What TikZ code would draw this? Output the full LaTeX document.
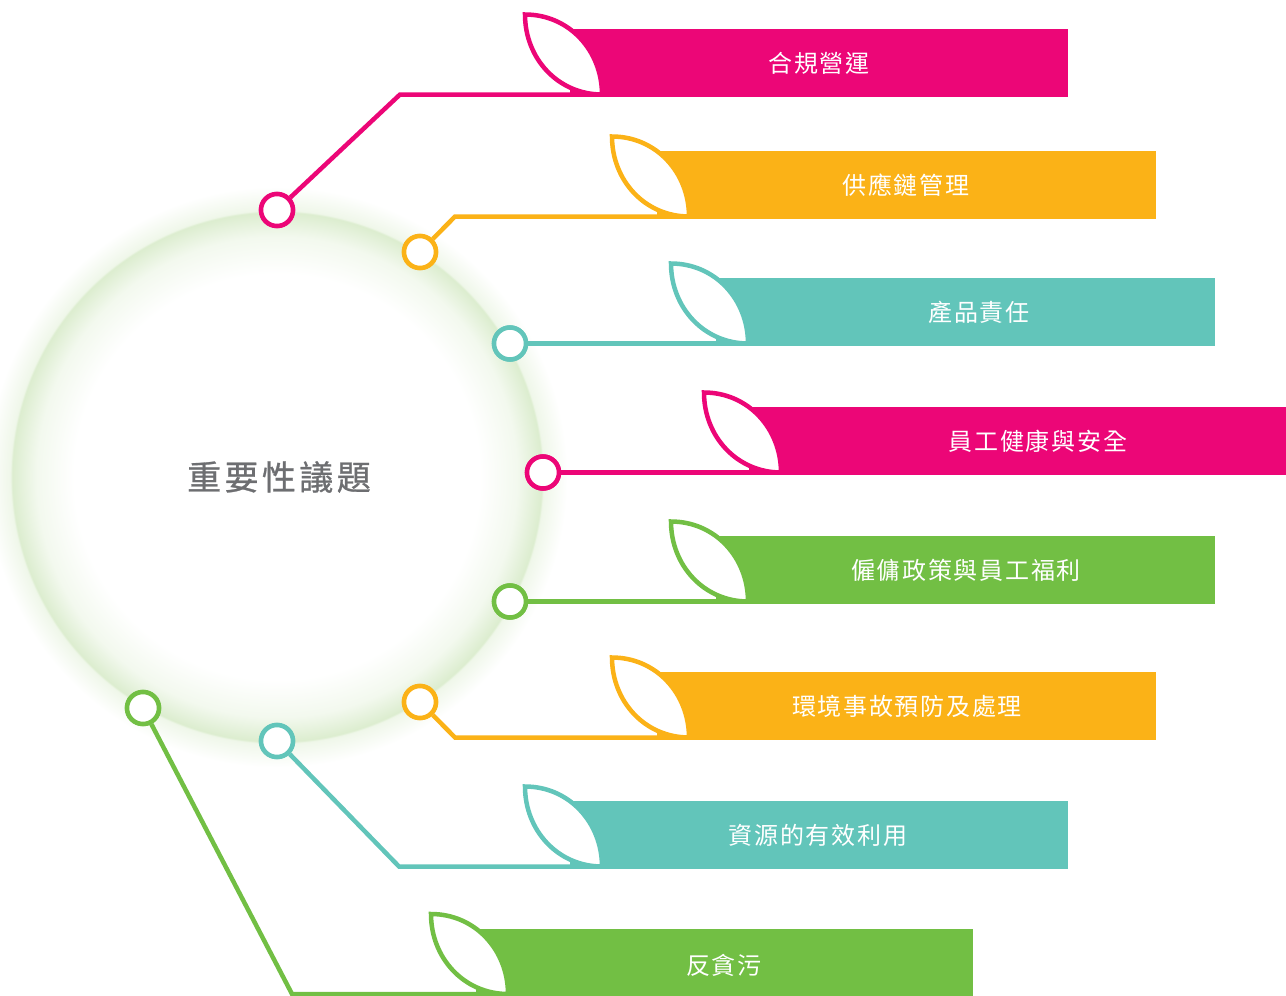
\documentclass[tikz,border=0pt]{standalone}
\usepackage{fontspec}
\newfontfamily\cjk[LetterSpace=7]{Noto Sans CJK TC}
\newfontfamily\cjktitle[LetterSpace=10,FakeBold=0.8]{Noto Sans CJK TC}
\definecolor{cmag}{HTML}{EC0677}
\definecolor{corg}{HTML}{FBB217}
\definecolor{ctea}{HTML}{62C5BA}
\definecolor{cgrn}{HTML}{72BF44}
\definecolor{ctit}{HTML}{6D6E71}
\definecolor{glowc}{HTML}{DCEDCF}
\pgfdeclareradialshading{glow}{\pgfpoint{0bp}{0bp}}{color(0bp)=(white); color(16.2bp)=(white); color(19.2bp)=(glowc!35!white); color(21.15bp)=(glowc); color(21.3bp)=(glowc!45!white); color(23.2bp)=(white); color(25bp)=(white); color(50bp)=(white)}
\tikzset{
  conn/.style={draw=#1, line width=4.5pt, line join=miter},
  dot/.style={circle, draw=#1, fill=white, line width=4.5pt, minimum size=32pt, inner sep=0pt},
  leafshape/.style={draw=#1, fill=white, line width=4.5pt, line join=miter},
  lbl/.style={text=white, font=\cjk\fontsize{24}{28}\selectfont, inner sep=0pt},
}
% #1 colour, #2 leaf left x, #3 line y, #4 bar right x, #5 coordinate name
\newcommand\drawleafbar[5]{%
  \fill[#1] ({#2+45},{#3-65.5}) rectangle (#4,{#3+2.5});
  \coordinate (#5) at ({#2+77},#3);
}
\newcommand\drawleafonly[3]{%
  \path[leafshape=#1] (#2,{#3-80}) .. controls ({#2+44},{#3-80}) and ({#2+77},{#3-44}) .. ({#2+77},#3)
     .. controls ({#2+33},#3) and (#2,{#3-36}) .. cycle;
}
\begin{document}
\begin{tikzpicture}[x=1pt,y=-1pt]
\useasboundingbox (0,0) rectangle (1286,996);
% glow circle
\shade[shading=glow] (277,477) circle [radius=313pt];
% title
\node[text=ctit, font=\cjktitle\fontsize{34}{40}\selectfont, inner sep=0pt] (title) at (279,477) {重要性議題};
% bars
\drawleafbar{cmag}{525}{94.5}{1068}{L1}
\drawleafbar{corg}{612}{216.5}{1156}{L2}
\drawleafbar{ctea}{671}{343.5}{1215}{L3}
\drawleafbar{cmag}{704}{472.5}{1286}{L4}
\drawleafbar{cgrn}{671}{601.5}{1215}{L5}
\drawleafbar{corg}{612}{737.5}{1156}{L6}
\drawleafbar{ctea}{525}{866.5}{1068}{L7}
\drawleafbar{cgrn}{431}{994}{973}{L8}
% circles (nodes)
\node[dot=cmag] (c1) at (277,210) {};
\node[dot=corg] (c2) at (420,252) {};
\node[dot=ctea] (c3) at (510,343.5) {};
\node[dot=cmag] (c4) at (543,472.5) {};
\node[dot=cgrn] (c5) at (510,601.5) {};
\node[dot=corg] (c6) at (420,702) {};
\node[dot=ctea] (c7) at (277,741) {};
\node[dot=cgrn] (c8) at (143,708) {};
% elbows
\coordinate (e1) at (400,94.5);
\coordinate (e2) at (455,216.5);
\coordinate (e6) at (455,737.5);
\coordinate (e7) at (399,866.5);
\coordinate (e8) at (292,994);
% connectors
\draw[conn=cmag] (c1) -- (e1) -- (L1);
\draw[conn=corg] (c2) -- (e2) -- (L2);
\draw[conn=ctea] (c3) -- (L3);
\draw[conn=cmag] (c4) -- (L4);
\draw[conn=cgrn] (c5) -- (L5);
\draw[conn=corg] (c6) -- (e6) -- (L6);
\draw[conn=ctea] (c7) -- (e7) -- (L7);
\draw[conn=cgrn] (c8) -- (e8) -- (L8);
% redraw circles on top
\node[dot=cmag] at (c1) {};
\node[dot=corg] at (c2) {};
\node[dot=ctea] at (c3) {};
\node[dot=cmag] at (c4) {};
\node[dot=cgrn] at (c5) {};
\node[dot=corg] at (c6) {};
\node[dot=ctea] at (c7) {};
\node[dot=cgrn] at (c8) {};
% leaves
\drawleafonly{cmag}{525}{94.5}
\drawleafonly{corg}{612}{216.5}
\drawleafonly{ctea}{671}{343.5}
\drawleafonly{cmag}{704}{472.5}
\drawleafonly{cgrn}{671}{601.5}
\drawleafonly{corg}{612}{737.5}
\drawleafonly{ctea}{525}{866.5}
\drawleafonly{cgrn}{431}{994}
% labels
\node[lbl] (t1) at (819,63) {合規營運};
\node[lbl] (t2) at (906,185) {供應鏈管理};
\node[lbl] (t3) at (979,312) {產品責任};
\node[lbl] (t4) at (1038,441) {員工健康與安全};
\node[lbl] (t5) at (966,570) {僱傭政策與員工福利};
\node[lbl] (t6) at (907,706) {環境事故預防及處理};
\node[lbl] (t7) at (818,835) {資源的有效利用};
\node[lbl] (t8) at (724,965) {反貪污};
\end{tikzpicture}
\end{document}
